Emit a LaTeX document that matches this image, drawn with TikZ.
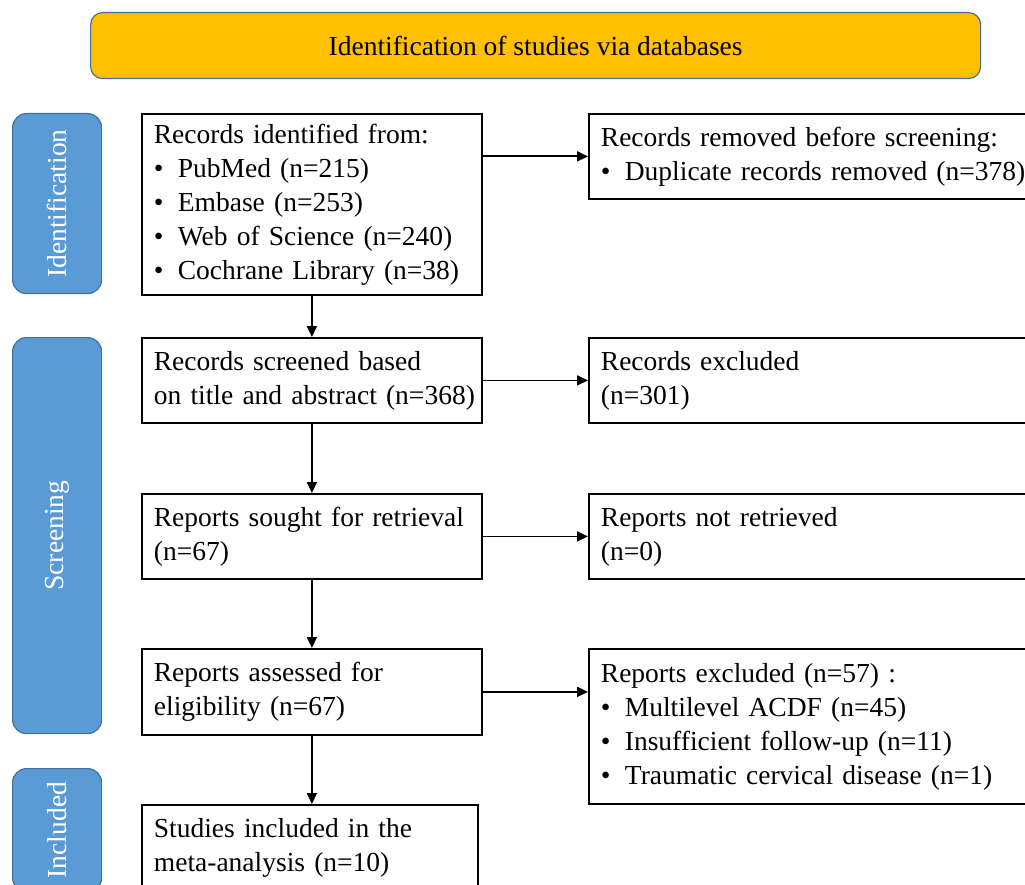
\documentclass[tikz,border=0pt]{standalone}
\usepackage{fontspec}
\setmainfont{Liberation Serif}
\usetikzlibrary{arrows.meta}
\definecolor{bannerfill}{HTML}{FFC000}
\definecolor{barfill}{HTML}{5B9BD5}
\definecolor{barline}{HTML}{41719C}
\newcommand{\bul}[1]{\makebox[24pt][l]{\textbullet}#1}

\begin{document}
\begin{tikzpicture}[x=1pt,y=-1pt,
  txt/.style={font=\fontsize{27.5}{34}\selectfont},
  box/.style={txt,draw=black,line width=1.8pt,anchor=north west,align=left,
    inner xsep=12pt,inner ysep=0pt},
  mainbox/.style={box,minimum width=340pt,text width=316pt},
  sidebox/.style={box,minimum width=480pt,text width=456pt},
  bar/.style={txt,text=white,fill=barfill,draw=barline,line width=1.2pt,
    rounded corners=14pt,anchor=north west,minimum width=89pt,inner sep=0pt},
  flow/.style={line width=1.8pt,-{Triangle[length=11pt,width=10pt]}}]
  \useasboundingbox (0,0) rectangle (1025,885);
  \clip (0,0) rectangle (1025,885);

  \node[txt,fill=bannerfill,draw=barline,line width=1.2pt,rounded corners=12pt,
    anchor=north west,minimum width=890pt,minimum height=66pt] (head) at (90,12)
    {Identification of studies via databases};

  \node[bar,minimum height=180pt] (idbar) at (12,113) {\rotatebox{90}{Identification}};
  \node[bar,minimum height=396pt] (scbar) at (12,337) {\rotatebox{90}{Screening}};
  \node[bar,minimum height=123pt] (inbar) at (12,768) {\rotatebox{90}{Included}};

  \node[mainbox,minimum height=181pt] (rec) at (141,113)
    {Records identified from:\\ \bul{PubMed (n=215)}\\ \bul{Embase (n=253)}\\
     \bul{Web of Science (n=240)}\\ \bul{Cochrane Library (n=38)}};
  \node[mainbox,minimum height=85pt] (scr) at (141,337)
    {Records screened based\\ \mbox{on title and abstract (n=368)}};
  \node[mainbox,minimum height=85pt] (ret) at (141,493)
    {Reports sought for retrieval\\ (n=67)};
  \node[mainbox,minimum height=86pt] (elig) at (141,648)
    {Reports assessed for\\ eligibility (n=67)};
  \node[mainbox,minimum width=336pt,text width=312pt,minimum height=86pt] (incl) at (141,804)
    {Studies included in the\\ meta-analysis (n=10)};

  \node[sidebox,minimum height=85pt] (dup) at (588,113)
    {Records removed before screening:\\ \bul{Duplicate records removed (n=378)}};
  \node[sidebox,minimum height=85pt] (exc) at (588,337)
    {Records excluded\\ (n=301)};
  \node[sidebox,minimum height=85pt] (notret) at (588,493)
    {Reports not retrieved\\ (n=0)};
  \node[sidebox,minimum height=155pt] (rexc) at (588,648)
    {Reports excluded (n=57) :\\ \bul{Multilevel ACDF (n=45)}\\
     \bul{Insufficient follow-up (n=11)}\\ \bul{Traumatic cervical disease (n=1)}};

  \draw[flow] (rec.south) -- (scr.north);
  \draw[flow] (scr.south) -- (ret.north);
  \draw[flow] (ret.south) -- (elig.north);
  \draw[flow] (elig.south) -- (elig.south |- incl.north);
  \draw[flow] (rec.east |- dup.west) -- (dup.west);
  \draw[flow] (scr.east) -- (exc.west);
  \draw[flow] (ret.east) -- (notret.west);
  \draw[flow] (elig.east) -- (elig.east -| rexc.west);
\end{tikzpicture}
\end{document}
